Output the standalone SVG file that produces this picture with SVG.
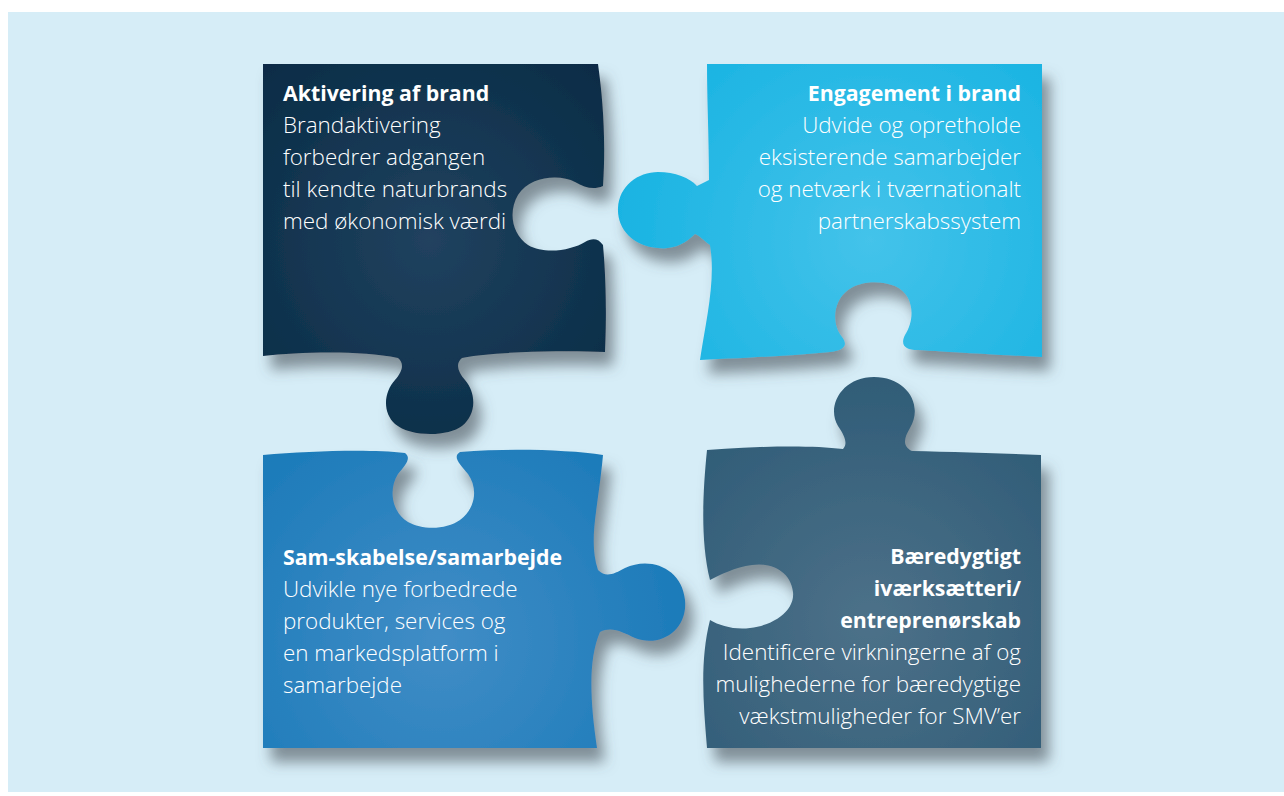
<svg xmlns="http://www.w3.org/2000/svg" width="1284" height="796" viewBox="0 0 1284 796">
<defs>
<style>
.t{font-family:"Open Sans","Noto Sans","Liberation Sans",sans-serif;font-size:22.4px;fill:#ffffff}
.b{font-weight:700;font-size:21.3px}
.l{font-weight:300}
.r{text-anchor:end}
</style>
<filter id="sh" x="-10%" y="-10%" width="130%" height="135%">
<feGaussianBlur in="SourceAlpha" stdDeviation="7"/>
<feOffset dx="8" dy="14" result="o"/>
<feFlood flood-color="#4c565e" flood-opacity="0.62"/>
<feComposite in2="o" operator="in"/>
<feMerge><feMergeNode/><feMergeNode in="SourceGraphic"/></feMerge>
</filter>
<radialGradient id="g1" cx="430" cy="240" r="260" gradientUnits="userSpaceOnUse">
<stop offset="0" stop-color="#21425f"/><stop offset="1" stop-color="#062a44"/>
</radialGradient>
<radialGradient id="g2" cx="870" cy="240" r="260" gradientUnits="userSpaceOnUse">
<stop offset="0" stop-color="#44c3ea"/><stop offset="1" stop-color="#18b3e2"/>
</radialGradient>
<radialGradient id="g3" cx="440" cy="640" r="260" gradientUnits="userSpaceOnUse">
<stop offset="0" stop-color="#418dc6"/><stop offset="1" stop-color="#1a7ab9"/>
</radialGradient>
<radialGradient id="g4" cx="870" cy="620" r="260" gradientUnits="userSpaceOnUse">
<stop offset="0" stop-color="#4d7189"/><stop offset="1" stop-color="#2e5b76"/>
</radialGradient>
</defs>
<rect x="0" y="0" width="1284" height="796" fill="#ffffff"/>
<rect x="8" y="12" width="1276" height="780" fill="#d6edf7"/>

<g id="piece-aktivering">
<path filter="url(#sh)" fill="url(#g1)" d="M 263,64 L 598,64 C 603,100 606,140 603,186 C 594,190 585,188 575,182 C 560,174 530,176 518,195 C 508,212 512,234 528,245 C 545,255 572,250 585,242 C 592,238 598,238 603,245 C 607,290 606,330 605,352 C 560,350 490,352 462,358 C 455,364 458,372 465,380 C 477,394 476,415 462,426 C 448,437 410,437 395,424 C 382,412 384,392 395,380 C 402,372 405,364 398,358 C 360,350 300,352 263,356 Z"/>
<text class="t b" x="283" y="101">Aktivering af brand</text>
<text class="t l" x="283" y="133">Brandaktivering</text>
<text class="t l" x="283" y="165">forbedrer adgangen</text>
<text class="t l" x="283" y="197">til kendte naturbrands</text>
<text class="t l" x="283" y="229">med økonomisk værdi</text>
</g>

<g id="piece-engagement">
<path filter="url(#sh)" fill="url(#g2)" d="M 707,64 L 1042,64 L 1042,357 C 1000,355 950,352 918,350 C 905,350 900,345 905,335 C 915,320 915,295 895,286 C 880,280 860,281 848,290 C 832,302 832,325 842,337 C 848,345 845,350 830,352 C 790,356 740,358 700,360 C 706,320 716,280 710,245 C 703,240 700,236 695,234 C 685,244 672,250 658,248 C 632,246 617,228 618,208 C 619,186 638,172 658,172 C 675,172 690,178 697,186 C 701,184 705,182 709,180 C 709,140 707,100 707,64 Z"/>
<text class="t b r" x="1021" y="101">Engagement i brand</text>
<text class="t l r" x="1021" y="133">Udvide og opretholde</text>
<text class="t l r" x="1021" y="165">eksisterende samarbejder</text>
<text class="t l r" x="1021" y="197">og netværk i tværnationalt</text>
<text class="t l r" x="1021" y="229">partnerskabssystem</text>
</g>

<g id="piece-samskabelse">
<path filter="url(#sh)" fill="url(#g3)" d="M 263,455 C 310,451 370,449 405,453 C 412,458 405,466 398,474 C 388,490 392,512 408,522 C 422,530 446,530 460,520 C 476,508 478,488 468,474 C 460,464 452,457 460,452 C 510,448 570,450 603,455 C 598,510 588,540 598,570 C 606,578 614,574 625,568 C 650,556 682,568 685,600 C 688,630 660,648 635,638 C 622,632 612,626 600,632 C 588,660 590,700 597,748 L 263,748 Z"/>
<text class="t b" x="283" y="565">Sam-skabelse/samarbejde</text>
<text class="t l" x="283" y="597">Udvikle nye forbedrede</text>
<text class="t l" x="283" y="629">produkter, services og</text>
<text class="t l" x="283" y="661">en markedsplatform i</text>
<text class="t l" x="283" y="693">samarbejde</text>
</g>

<g id="piece-iværksætteri">
<path filter="url(#sh)" fill="url(#g4)" d="M 707,450 C 760,446 810,445 843,449 C 848,444 845,436 838,426 C 826,406 842,377 874,377 C 906,377 924,404 910,428 C 904,438 902,446 912,451 C 950,452 1000,453 1041,455 L 1041,748 L 707,748 C 703,700 700,660 710,620 C 720,626 735,630 750,628 C 775,625 795,610 793,592 C 791,572 772,562 752,565 C 735,567 720,575 710,580 C 700,540 703,490 707,450 Z"/>
<text class="t b r" x="1021" y="564">Bæredygtigt</text>
<text class="t b r" x="1021" y="596">iværksætteri/</text>
<text class="t b r" x="1021" y="628">entreprenørskab</text>
<text class="t l r" x="1021" y="660">Identificere virkningerne af og</text>
<text class="t l r" x="1021" y="692">mulighederne for bæredygtige</text>
<text class="t l r" x="1021" y="724">vækstmuligheder for SMV’er</text>
</g>

<g id="connectors"></g>
</svg>
